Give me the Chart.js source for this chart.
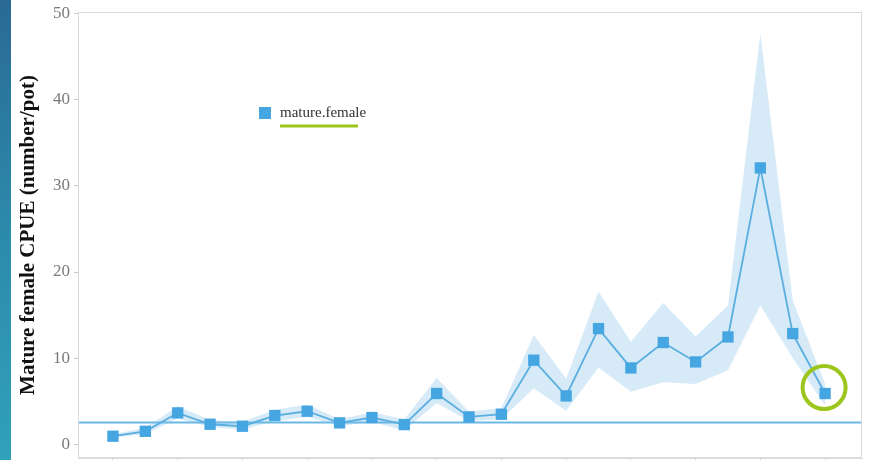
<!DOCTYPE html>
<html lang="en">
<head>
    <meta charset="UTF-8">
    <title>Mature female CPUE</title>
    <script src="https://cdn.jsdelivr.net/npm/chart.js"></script>
    <style>
        html, body {
            margin: 0;
            padding: 0;
            width: 869px;
            height: 460px;
            overflow: hidden;
            background: #ffffff;
        }
        .strip {
            position: absolute;
            left: 0;
            top: 0;
            width: 11px;
            height: 460px;
            background: linear-gradient(180deg, #2a6a95 0%, #2c8aab 50%, #31a1b9 100%);
        }
        .chart-container {
            position: absolute;
            left: 0;
            top: 0;
            width: 869px;
            height: 460px;
        }
    </style>
</head>
<body>
    <div class="strip"></div>
    <div class="chart-container">
        <canvas id="cpueChart"></canvas>
    </div>

    <script>
        // survey index (x labels are cut off in the source picture)
        const surveys = [1, 2, 3, 4, 5, 6, 7, 8, 9, 10, 11, 12, 13, 14, 15, 16, 17, 18, 19, 20, 21, 22, 23];
        const cpue  = [0.93, 1.5, 3.64, 2.32, 2.09, 3.33, 3.83, 2.48, 3.1, 2.28, 5.89, 3.17, 3.48, 9.76, 5.61, 13.43, 8.86, 11.81, 9.56, 12.46, 32.09, 12.85, 5.89];
        const lower = [0.75, 1.2, 3.0, 2.0, 1.7, 2.7, 3.2, 2.1, 2.6, 1.6, 4.8, 2.7, 2.9, 6.5, 3.9, 8.9, 6.1, 7.2, 7.0, 8.6, 16.1, 10.0, 4.5];
        const upper = [1.15, 1.9, 4.4, 2.8, 2.6, 4.0, 4.6, 2.9, 3.7, 2.9, 7.7, 3.8, 4.2, 12.7, 7.6, 17.7, 11.9, 16.4, 12.5, 16.1, 47.7, 16.7, 7.0];
        const refLevel = 2.53;
        const yTicks = [0, 10, 20, 30, 40, 50];
        const seriesName = 'mature.female';

        const xMin = -1.08, xMax = 23.14;
        const toPts = arr => arr.map((v, i) => ({ x: i, y: v }));

        const blue = '#45a6e2';
        const lime = '#9cc61c';

        const extras = {
            id: 'extras',
            afterDraw(chart) {
                const ctx = chart.ctx;
                const a = chart.chartArea;
                const xs = chart.scales.x, ys = chart.scales.y;
                ctx.save();
                // plot frame
                ctx.strokeStyle = '#dcdcdc';
                ctx.lineWidth = 1;
                ctx.strokeRect(a.left + 0.5, a.top + 0.5, a.right - a.left - 1, a.bottom - a.top - 1);
                // legend
                const lx = a.left + 187, ly = 113;
                ctx.fillStyle = blue;
                ctx.fillRect(lx - 6, ly - 6, 12, 12);
                ctx.fillStyle = '#333333';
                ctx.font = '15px "Liberation Serif", serif';
                ctx.textBaseline = 'middle';
                ctx.fillText(seriesName, lx + 15, ly);
                ctx.strokeStyle = lime;
                ctx.lineWidth = 3;
                ctx.beginPath();
                ctx.moveTo(lx + 15, ly + 13);
                ctx.lineTo(lx + 93, ly + 13);
                ctx.stroke();
                // highlight circle on last point
                const last = cpue.length - 1;
                const cx = xs.getPixelForValue(last) - 1;
                const cy = ys.getPixelForValue(cpue[last]) - 6;
                ctx.lineWidth = 4;
                ctx.beginPath();
                ctx.arc(cx, cy, 21.5, 0, Math.PI * 2);
                ctx.stroke();
                ctx.restore();
            }
        };

        const ctx = document.getElementById('cpueChart').getContext('2d');
        const cpueChart = new Chart(ctx, {
            type: 'line',
            data: {
                labels: surveys,
                datasets: [
                    {
                        label: 'lower',
                        data: toPts(lower),
                        borderWidth: 0,
                        pointRadius: 0,
                        fill: false,
                        order: 4
                    },
                    {
                        label: 'upper',
                        data: toPts(upper),
                        borderWidth: 0,
                        pointRadius: 0,
                        backgroundColor: '#d6eaf8',
                        fill: '-1',
                        order: 3
                    },
                    {
                        label: 'reference',
                        data: [{ x: xMin, y: refLevel }, { x: xMax, y: refLevel }],
                        borderColor: '#6bb8e4',
                        borderWidth: 2,
                        pointRadius: 0,
                        fill: false,
                        order: 2
                    },
                    {
                        label: seriesName,
                        data: toPts(cpue),
                        borderColor: '#5aaee0',
                        borderWidth: 1.8,
                        pointStyle: 'rect',
                        pointRadius: 8,
                        pointBackgroundColor: blue,
                        pointBorderColor: blue,
                        pointBorderWidth: 0,
                        fill: false,
                        tension: 0,
                        order: 1
                    }
                ]
            },
            options: {
                responsive: true,
                maintainAspectRatio: false,
                animation: false,
                layout: { autoPadding: false, padding: { left: 12, right: 7, top: 12, bottom: 0 } },
                scales: {
                    x: {
                        type: 'linear',
                        min: xMin,
                        max: xMax,
                        afterBuildTicks: s => { s.ticks = surveys.filter((v, i) => i % 2 === 0).map((v, i) => ({ value: i * 2 })); },
                        afterFit: s => { s.height = 2; s.paddingLeft = 0; s.paddingRight = 0; },
                        ticks: { display: false },
                        grid: { drawOnChartArea: false, tickLength: 3, color: '#cccccc' },
                        border: { color: '#dcdcdc' }
                    },
                    y: {
                        min: -1.6,
                        max: 50.2,
                        afterBuildTicks: s => { s.ticks = yTicks.map(v => ({ value: v })); },
                        afterFit: s => { s.width = 66; s.paddingTop = 0; s.paddingBottom = 0; },
                        ticks: {
                            color: '#7a7a7a',
                            padding: 4,
                            font: { family: '"Liberation Serif", serif', size: 17 }
                        },
                        grid: { drawOnChartArea: false, tickLength: 4, color: '#cccccc' },
                        border: { color: '#dcdcdc' },
                        title: {
                            display: true,
                            text: 'Mature female CPUE (number/pot)',
                            color: '#111111',
                            padding: { top: 4, bottom: 0 },
                            font: { family: '"Liberation Serif", serif', size: 21, weight: 'bold' }
                        }
                    }
                },
                plugins: {
                    legend: { display: false },
                    tooltip: { enabled: false }
                }
            },
            plugins: [extras]
        });
    </script>
</body>
</html>
